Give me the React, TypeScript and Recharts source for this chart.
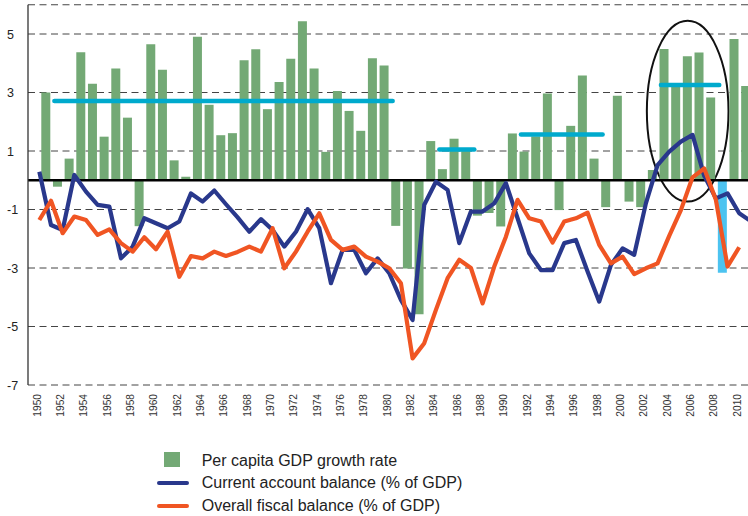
import { ComposedChart, Bar, Line, XAxis, YAxis, CartesianGrid, ReferenceLine, ReferenceArea, Cell } from "recharts";

const YEARS = [
  "1950", "1951", "1952", "1953", "1954", "1955", "1956", "1957", "1958", "1959",
  "1960", "1961", "1962", "1963", "1964", "1965", "1966", "1967", "1968", "1969",
  "1970", "1971", "1972", "1973", "1974", "1975", "1976", "1977", "1978", "1979",
  "1980", "1981", "1982", "1983", "1984", "1985", "1986", "1987", "1988", "1989",
  "1990", "1991", "1992", "1993", "1994", "1995", "1996", "1997", "1998", "1999",
  "2000", "2001", "2002", "2003", "2004", "2005", "2006", "2007", "2008", "2009",
  "2010", "2011",
];

// per capita GDP growth rate (%)
const GROWTH = [
  3.0, -0.22, 0.74, 4.38, 3.3, 1.49, 3.82, 2.14, -1.57, 4.65,
  3.78, 0.68, 0.12, 4.91, 2.58, 1.54, 1.61, 4.1, 4.48, 2.43,
  3.36, 4.15, 5.44, 3.82, 0.97, 3.05, 2.37, 1.69, 4.17, 3.92,
  -1.56, -3.02, -4.58, 1.34, 0.38, 1.42, 1.0, -1.21, -1.12, -1.58,
  1.6, 0.98, 1.5, 2.97, -1.02, 1.86, 3.58, 0.74, -0.92, 2.89,
  -0.73, -0.92, 0.35, 4.49, 3.3, 4.24, 4.37, 2.83, -3.16, 4.83,
  3.22, null,
];

// current account balance (% of GDP)
const CURRENT_ACCOUNT = [
  0.29, -1.53, -1.7, 0.18, -0.39, -0.84, -0.9, -2.67, -2.27, -1.3,
  -1.47, -1.64, -1.41, -0.45, -0.73, -0.35, -0.82, -1.27, -1.76, -1.33,
  -1.7, -2.27, -1.76, -0.99, -1.64, -3.52, -2.38, -2.38, -3.18, -2.67,
  -3.18, -4.09, -4.78, -0.84, -0.05, -0.33, -2.15, -1.07, -1.07, -0.79,
  -0.1, -1.3, -2.5, -3.07, -3.07, -2.15, -2.04, -3.12, -4.15, -2.9,
  -2.33, -2.55, -0.79, 0.52, 0.98, 1.32, 1.55, 0.15, -0.62, -0.45,
  -1.13, -1.4,
];

// overall fiscal balance (% of GDP)
const FISCAL = [
  -1.36, -0.7, -1.81, -1.24, -1.36, -1.87, -1.68, -2.15, -2.44, -1.95,
  -2.36, -1.76, -3.3, -2.59, -2.67, -2.44, -2.59, -2.45, -2.27, -2.44,
  -1.64, -3.01, -2.44, -1.76, -1.13, -2.04, -2.38, -2.27, -2.61, -2.78,
  -3.01, -3.52, -6.09, -5.57, -4.43, -3.35, -2.72, -3.0, -4.21, -2.95,
  -1.93, -0.67, -1.3, -1.41, -2.13, -1.41, -1.3, -1.11, -2.21, -2.84,
  -2.61, -3.21, -3.01, -2.84, -1.9, -1.02, 0.1, 0.4, -0.67, -2.95,
  -2.29, null,
];

const Y_TICKS = [-7, -5, -3, -1, 1, 3, 5];

// period averages of growth (cyan bars)
const AVERAGES = [
  { from: "1951", to: "1980", value: 2.71 },
  { from: "1984", to: "1987", value: 1.05 },
  { from: "1991", to: "1998", value: 1.56 },
  { from: "2003", to: "2008", value: 3.26 },
];

const HIGHLIGHT_YEAR = "2008";
const ELLIPSE = { from: "2002", to: "2008", low: -0.73, high: 5.45 };

const GREEN = "#73a975";
const SKY = "#4cc3f0";
const CYAN = "#00aacd";
const NAVY = "#29388c";
const ORANGE = "#f05523";
const FONT = "'Liberation Sans', Arial, Helvetica, sans-serif";

const LEGEND = [
  { label: "Per capita GDP growth rate", color: GREEN, kind: "bar", top: 451.5 },
  { label: "Current account balance (% of GDP)", color: NAVY, kind: "line", top: 473.8 },
  { label: "Overall fiscal balance (% of GDP)", color: ORANGE, kind: "line", top: 497.1 },
];

const data = YEARS.map((year, i) => ({
  year,
  growth: GROWTH[i],
  current: CURRENT_ACCOUNT[i],
  fiscal: FISCAL[i],
}));

const renderYTick = (props: any) => {
  const { y, payload } = props;
  return (
    <text x={7} y={y} dy="0.36em" fontSize={12.5} fill="#222" fontFamily={FONT}>
      {payload.value}
    </text>
  );
};

const renderXTick = (props: any) => {
  const { x, y, payload } = props;
  const tx = x + 1.4;
  const ty = y + 1;
  return (
    <text
      x={tx}
      y={ty}
      transform={`rotate(-90 ${tx} ${ty})`}
      textAnchor="end"
      fontSize={10.2}
      fill="#333"
      fontFamily={FONT}
    >
      {payload.value}
    </text>
  );
};

const renderEllipse = (props: any) => {
  const { x, y, width, height } = props;
  return (
    <ellipse
      cx={x + width / 2}
      cy={y + height / 2}
      rx={width / 2}
      ry={height / 2}
      fill="none"
      stroke="#111"
      strokeWidth={2}
    />
  );
};

export default function App() {
  return (
    <div
      style={{
        position: "absolute",
        left: 0,
        top: 0,
        width: 748,
        height: 516,
        overflow: "hidden",
        background: "#fff",
      }}
    >
      <ComposedChart width={763.5} height={516} data={data} margin={{ top: 4.75, right: 0, bottom: 0, left: 0 }}>
        <CartesianGrid vertical={false} stroke="#444" strokeDasharray="7 4.5" />
        <XAxis
          xAxisId="lines"
          dataKey="year"
          height={131}
          interval={1}
          axisLine={false}
          tickLine={false}
          padding={{ left: 5.5, right: 6.8 }}
          tick={renderXTick}
        />
        <XAxis xAxisId={0} dataKey="year" hide height={0} />
        <XAxis xAxisId="bars" dataKey="year" hide height={0} padding={{ left: 12.3, right: 0 }} />
        <XAxis xAxisId="avg" dataKey="year" hide height={0} padding={{ left: 8.9, right: 3.4 }} />
        <YAxis
          domain={[-7, 6]}
          ticks={Y_TICKS}
          width={28}
          axisLine={{ stroke: "#333", strokeWidth: 1.3 }}
          tickLine={false}
          tick={renderYTick}
        />
        <Bar xAxisId="bars" dataKey="growth" barSize={9} fill={GREEN} isAnimationActive={false}>
          {data.map((d) => (
            <Cell key={d.year} fill={d.year === HIGHLIGHT_YEAR ? SKY : GREEN} />
          ))}
        </Bar>
        <ReferenceLine y={0} stroke="#000" strokeWidth={2.7} />
        <Line
          xAxisId="lines"
          type="linear"
          dataKey="current"
          stroke={NAVY}
          strokeWidth={4.2}
          strokeLinejoin="round"
          dot={false}
          activeDot={false}
          isAnimationActive={false}
        />
        <Line
          xAxisId="lines"
          type="linear"
          dataKey="fiscal"
          stroke={ORANGE}
          strokeWidth={4.2}
          strokeLinejoin="round"
          dot={false}
          activeDot={false}
          isAnimationActive={false}
        />
        {AVERAGES.map((a) => (
          <ReferenceLine
            key={a.from}
            xAxisId="avg"
            segment={[
              { x: a.from, y: a.value },
              { x: a.to, y: a.value },
            ]}
            stroke={CYAN}
            strokeWidth={4.5}
            strokeLinecap="round"
          />
        ))}
        <ReferenceArea
          xAxisId="bars"
          x1={ELLIPSE.from}
          x2={ELLIPSE.to}
          y1={ELLIPSE.low}
          y2={ELLIPSE.high}
          shape={renderEllipse}
        />
      </ComposedChart>

      {/* legend */}
      {LEGEND.map((item) => (
        <div
          key={item.label}
          style={{ position: "absolute", left: 157, top: item.top, height: 18, width: 360 }}
        >
          {item.kind === "bar" ? (
            <span style={{ position: "absolute", left: 7, top: 0.2, width: 16, height: 15, background: item.color }} />
          ) : (
            <span
              style={{
                position: "absolute",
                left: 0,
                top: 6.75,
                width: 32,
                height: 4.5,
                borderRadius: 2.25,
                background: item.color,
              }}
            />
          )}
          <span
            style={{
              position: "absolute",
              left: 44.7,
              top: 0,
              lineHeight: "18px",
              fontSize: 16,
              fontFamily: FONT,
              color: "#222",
              whiteSpace: "nowrap",
            }}
          >
            {item.label}
          </span>
        </div>
      ))}
    </div>
  );
}
